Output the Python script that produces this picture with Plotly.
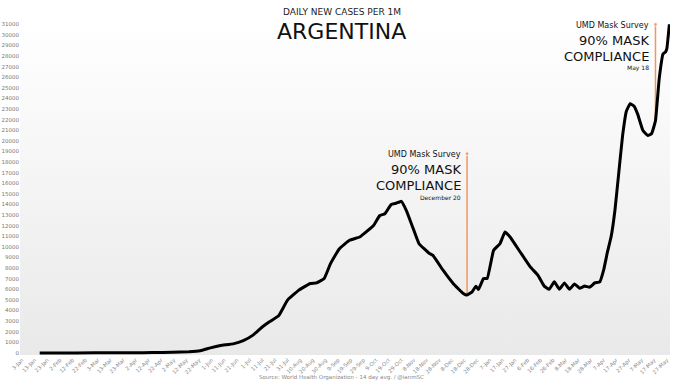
import plotly.graph_objects as go
import pandas as pd

# ---------------- data ----------------
dates = [
    "2020-01-17", "2020-02-15", "2020-03-15", "2020-04-01", "2020-04-15", "2020-05-01",
    "2020-05-14", "2020-05-23", "2020-05-31", "2020-06-08", "2020-06-18", "2020-06-26",
    "2020-07-04", "2020-07-11", "2020-07-17", "2020-07-24", "2020-07-31", "2020-08-09",
    "2020-08-18", "2020-08-23", "2020-08-29", "2020-09-03", "2020-09-10", "2020-09-18",
    "2020-09-26", "2020-09-30", "2020-10-07", "2020-10-12", "2020-10-16", "2020-10-21",
    "2020-10-25", "2020-10-29", "2020-11-02", "2020-11-07", "2020-11-12", "2020-11-20",
    "2020-11-23", "2020-12-01", "2020-12-09", "2020-12-17", "2020-12-20", "2020-12-24",
    "2020-12-27", "2020-12-29", "2021-01-02", "2021-01-05", "2021-01-10", "2021-01-15",
    "2021-01-19", "2021-01-23", "2021-01-31", "2021-02-08", "2021-02-14", "2021-02-19",
    "2021-02-23", "2021-02-27", "2021-03-03", "2021-03-07", "2021-03-11", "2021-03-15",
    "2021-03-19", "2021-03-23", "2021-03-27", "2021-03-31", "2021-04-04", "2021-04-07",
    "2021-04-10", "2021-04-13", "2021-04-16", "2021-04-19", "2021-04-22", "2021-04-25",
    "2021-04-28", "2021-05-01", "2021-05-04", "2021-05-08", "2021-05-12", "2021-05-15",
    "2021-05-18", "2021-05-21", "2021-05-24", "2021-05-26", "2021-05-27", "2021-05-29",
]
cases_14d_avg = [
    0, 0, 2, 15, 30, 50,
    100, 200, 470, 690, 850, 1150,
    1700, 2440, 2950, 3500, 4980, 5920,
    6550, 6600, 7010, 8420, 9830, 10620,
    10930, 11300, 12020, 12960, 13120, 14000,
    14120, 14300, 13430, 11860, 10300, 9400,
    9200, 7800, 6550, 5600, 5450, 5760,
    6290, 5980, 7010, 7040, 9680, 10300,
    11400, 10930, 9520, 8110, 7330, 6300,
    6000, 6700, 6000, 6600, 6000, 6500,
    6100, 6300, 6200, 6600, 6700, 7800,
    9500, 11000, 13500, 17000, 20500, 22800,
    23500, 23300, 22500, 21000, 20500, 20700,
    21900, 25900, 28200, 28400, 28700, 31000,
]

tick_labels = [
    "3-Jan", "13-Jan", "23-Jan", "2-Feb", "12-Feb", "22-Feb", "3-Mar", "13-Mar", "23-Mar",
    "2-Apr", "12-Apr", "22-Apr", "2-May", "12-May", "22-May", "1-Jun", "11-Jun", "21-Jun",
    "1-Jul", "11-Jul", "21-Jul", "31-Jul", "10-Aug", "20-Aug", "30-Aug", "9-Sep", "19-Sep",
    "29-Sep", "9-Oct", "19-Oct", "29-Oct", "8-Nov", "18-Nov", "28-Nov", "8-Dec", "18-Dec",
    "28-Dec", "7-Jan", "17-Jan", "27-Jan", "6-Feb", "16-Feb", "26-Feb", "8-Mar", "18-Mar",
    "28-Mar", "7-Apr", "17-Apr", "27-Apr", "7-May", "17-May", "27-May",
]
tick_dates = pd.date_range("2020-01-03", periods=len(tick_labels), freq="10D")
y_ticks = list(range(0, 32000, 1000))
y_tick_labels = [str(v) for v in y_ticks]

# annotations (survey markers)
survey_dates = ["2020-12-20", "2021-05-18"]
survey_base = [5450, 21900]
survey_top = [18800, 31000]
survey_labels = ["December 20", "May 18"]

# ---------------- figure ----------------
X_RANGE = ["2020-01-01 10:00", "2021-05-29 12:00"]
Y_RANGE = [-200, 31500]
FONT = "DejaVu Sans"
ORANGE = "#f0975a"

fig = go.Figure()

# gradient plot background
fig.add_trace(go.Scatter(
    x=[X_RANGE[0], X_RANGE[1], X_RANGE[1], X_RANGE[0]],
    y=[Y_RANGE[0], Y_RANGE[0], Y_RANGE[1], Y_RANGE[1]],
    fill="toself", mode="none", hoverinfo="skip", showlegend=False,
    fillgradient=dict(type="vertical",
                      colorscale=[[0, "#e9e9e9"], [0.45, "#f3f3f3"], [1, "#ffffff"]]),
))

# survey vertical lines
for d, b, t in zip(survey_dates, survey_base, survey_top):
    fig.add_trace(go.Scatter(
        x=[d, d], y=[b, t], mode="lines+markers",
        line=dict(color=ORANGE, width=1.5),
        marker=dict(size=[0, 4], color=ORANGE, symbol="circle"),
        hoverinfo="skip", showlegend=False,
    ))

# main line
fig.add_trace(go.Scatter(
    x=dates, y=cases_14d_avg, mode="lines",
    line=dict(color="black", width=3, shape="spline", smoothing=0.3),
    showlegend=False,
))

ann = []
# titles
ann.append(dict(text="DAILY NEW CASES PER 1M", xref="paper", yref="paper", x=0.495, y=1.022,
                xanchor="center", yanchor="middle",
                showarrow=False, font=dict(family=FONT, size=9, color="#222")))
ann.append(dict(text="ARGENTINA", xref="paper", yref="paper", x=0.495, y=0.963,
                xanchor="center", yanchor="middle",
                showarrow=False, font=dict(family=FONT, size=22, color="#111")))
ann.append(dict(text="Source: World Health Organization - 14 day avg. / @ianmSC",
                xref="paper", yref="paper", x=0.495, y=-0.066, showarrow=False,
                xanchor="center", yanchor="middle",
                font=dict(family=FONT, size=5.5, color="#888")))

# survey text blocks
offsets = [
    (0, "UMD Mask Survey", 8),
    (-1410, "90% MASK", 13),
    (-2920, "COMPLIANCE", 13),
    (-4060, None, 6),
]
for d, t, lab in zip(survey_dates, survey_top, survey_labels):
    for dv, txt, fs in offsets:
        ann.append(dict(text=txt if txt else lab, x=d, y=t + dv - 100, xref="x", yref="y",
                        xanchor="right", yanchor="middle", xshift=-4, showarrow=False,
                        font=dict(family=FONT, size=fs, color="#111")))

fig.update_layout(
    width=679, height=383,
    margin=dict(l=20, r=9, t=19, b=28, autoexpand=False),
    paper_bgcolor="white", plot_bgcolor="white",
    annotations=ann,
    xaxis=dict(type="date", range=X_RANGE, tickvals=tick_dates, ticktext=tick_labels,
               tickangle=-45, showgrid=False, zeroline=False, showline=False, ticks="",
               automargin=False,
               tickfont=dict(family=FONT, size=5.3, color="#888")),
    yaxis=dict(range=Y_RANGE, tickvals=y_ticks, ticktext=y_tick_labels, showgrid=False,
               zeroline=False, showline=False, ticks="", automargin=False,
               tickfont=dict(family=FONT, size=5.5, color="#777")),
)

fig.write_html("out.html", config={"displayModeBar": False},
               post_script="document.body.style.margin='0';")
